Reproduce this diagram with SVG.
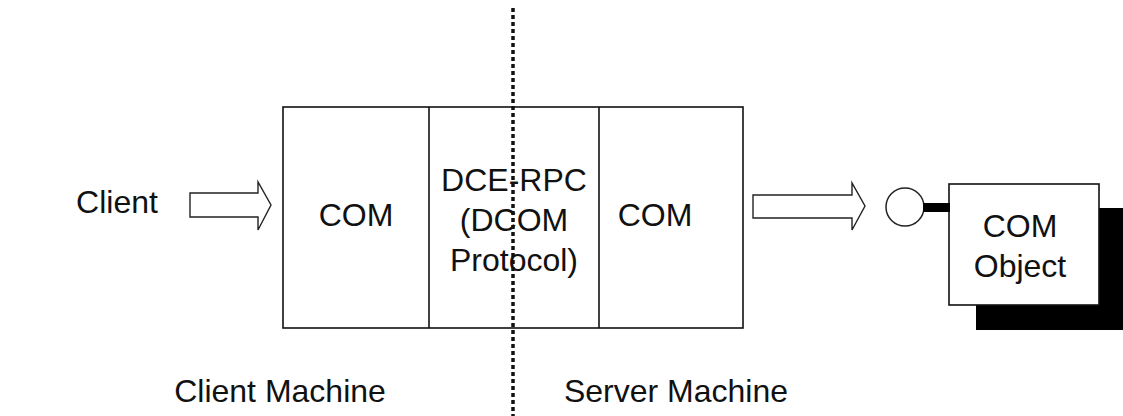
<svg xmlns="http://www.w3.org/2000/svg" width="1123" height="416" viewBox="0 0 1123 416">
  <style>
    .lbl { font-family: "Liberation Sans", Arial, sans-serif; font-size: 32px; fill: #111; text-anchor: middle; }
    .box { fill: #fff; stroke: #111; stroke-width: 1.6; }
    .arrow { fill: #fff; stroke: #222; stroke-width: 1.4; stroke-linejoin: miter; }
    .divider { fill: none; stroke: #111; stroke-width: 3.5; stroke-dasharray: 4 3; }
  </style>
  <rect width="1123" height="416" fill="#fff"/>

  <g id="client">
    <text class="lbl" x="117" y="213">Client</text>
  </g>

  <g id="stack">
    <rect class="box" x="283" y="107" width="460" height="221"/>
    <line x1="429" y1="107" x2="429" y2="328" stroke="#111" stroke-width="1.6"/>
    <line x1="599" y1="107" x2="599" y2="328" stroke="#111" stroke-width="1.6"/>
  </g>

  <g id="com-client">
    <text class="lbl" x="356" y="226">COM</text>
  </g>

  <g id="dce-rpc">
    <text class="lbl" x="514" y="191">DCE-RPC</text>
    <text class="lbl" x="514" y="231">(DCOM</text>
    <text class="lbl" x="514" y="271">Protocol)</text>
  </g>

  <g id="com-server">
    <text class="lbl" x="655" y="226">COM</text>
  </g>

  <g id="com-object">
    <rect x="976" y="208" width="150" height="122" fill="#000"/>
    <rect class="box" x="949" y="184" width="150" height="121"/>
    <text class="lbl" x="1020" y="237">COM</text>
    <text class="lbl" x="1020" y="277">Object</text>
  </g>

  <g id="interface">
    <circle cx="905" cy="207" r="19" fill="#fff" stroke="#222" stroke-width="1.5"/>
    <rect x="923" y="203" width="27" height="9" fill="#000"/>
  </g>

  <g id="labels">
    <text class="lbl" x="280" y="402">Client Machine</text>
    <text class="lbl" x="676" y="402">Server Machine</text>
  </g>

  <g id="connectors">
    <polygon class="arrow" points="190,193 258,193 258,182 271,205 258,230 258,217 190,217"/>
    <polygon class="arrow" points="753,195 852,195 852,183 865,206 852,230 852,218 753,218"/>
    <line class="divider" x1="513" y1="8" x2="513" y2="416"/>
  </g>
</svg>
